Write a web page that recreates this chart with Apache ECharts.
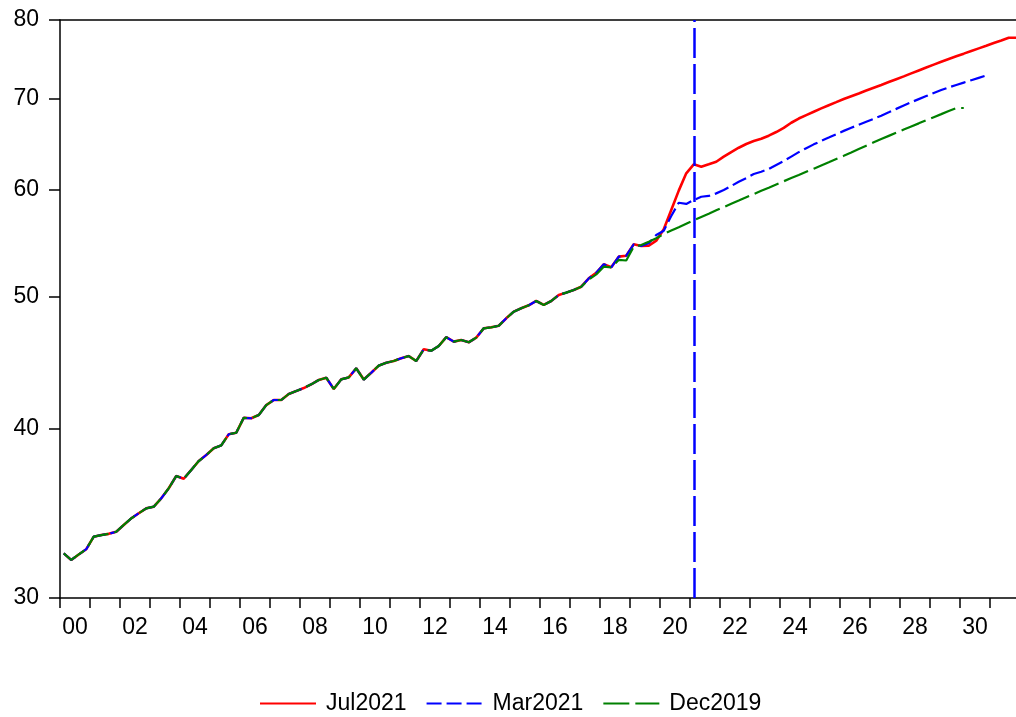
<!DOCTYPE html>
<html><head><meta charset="utf-8">
<script src="https://cdn.jsdelivr.net/npm/echarts@6/dist/echarts.min.js"></script>
<style>html,body{margin:0;padding:0;background:#fff}#c{width:1016px;height:717px}</style>
</head><body><div id="c"></div>
<script>
// Quarterly data, first observation = 2000Q1
const startYear = 2000;
const seriesNames = ['Jul2021', 'Mar2021', 'Dec2019'];
// Common history 2000Q1..2017Q2 (quarter index 0..69)
const sharedHistory = [
  32.36, 32.00, 32.30, 32.59, 33.29, 33.38, 33.45, 33.57, 33.96, 34.34,
  34.64, 34.93, 35.03, 35.53, 36.14, 36.90, 36.73, 37.28, 37.85, 38.24,
  38.68, 38.87, 39.61, 39.71, 40.73, 40.70, 40.92, 41.62, 41.98, 41.98,
  42.41, 42.62, 42.84, 43.11, 43.43, 43.60, 42.77, 43.48, 43.62, 44.30,
  43.46, 43.97, 44.50, 44.72, 44.85, 45.06, 45.23, 44.85, 45.75, 45.64,
  46.01, 46.70, 46.35, 46.48, 46.30, 46.67, 47.41, 47.49, 47.62, 48.22,
  48.77, 49.05, 49.30, 49.66, 49.33, 49.66, 50.17, 50.37, 50.60, 50.88
];
// Vintage-specific values from 2017Q3 (index 70)
const jul2021Tail = [
  51.60, 52.09, 52.85, 52.58, 53.54, 53.63, 54.68, 54.52, 54.54, 55.01,
  56.09, 57.95, 59.89, 61.67, 62.62, 62.37, 62.63, 62.90, 63.44, 63.94,
  64.41, 64.82, 65.15, 65.40, 65.74, 66.15, 66.62, 67.20, 67.68, 68.08,
  68.47, 68.86, 69.23, 69.59, 69.96, 70.30, 70.63, 70.97, 71.31, 71.65,
  72.00, 72.35, 72.70, 73.07, 73.44, 73.81, 74.17, 74.53, 74.88, 75.23,
  75.56, 75.90, 76.24, 76.58, 76.93, 77.27, 77.62, 77.62
];
const mar2021Tail = [
  51.60, 52.09, 52.85, 52.58, 53.54, 53.63, 54.68, 54.52, 54.77, 55.55,
  55.95, 57.36, 58.67, 58.55, 58.94, 59.27, 59.35, 59.61, 59.95, 60.36,
  60.80, 61.18, 61.60, 61.84, 62.12, 62.55, 62.97, 63.45, 63.93, 64.36,
  64.78, 65.16, 65.53, 65.91, 66.28, 66.63, 66.97, 67.31, 67.65, 68.01,
  68.40, 68.80, 69.19, 69.58, 69.95, 70.31, 70.67, 71.03, 71.36, 71.65,
  71.94, 72.23, 72.52, 72.81
];
const dec2019Tail = [
  51.50, 51.95, 52.64, 52.58, 53.24, 53.19, 54.45, 54.61, 54.92, 55.24,
  55.64, 55.97, 56.29, 56.62, 56.94, 57.27, 57.59, 57.92, 58.24, 58.57,
  58.89, 59.22, 59.54, 59.87, 60.19, 60.52, 60.85, 61.18, 61.50, 61.83,
  62.16, 62.50, 62.84, 63.19, 63.53, 63.89, 64.26, 64.63, 65.00, 65.37,
  65.72, 66.07, 66.43, 66.78, 67.13, 67.49, 67.84, 68.19, 68.55, 68.90,
  68.90
];
const yTickValues = [30, 40, 50, 60, 70, 80];
const xLabelYears = [2000, 2002, 2004, 2006, 2008, 2010, 2012, 2014, 2016, 2018, 2020, 2022, 2024, 2026, 2028, 2030];
const xTickYears = [];
for (let y = 2000; y <= 2031; y++) xTickYears.push(y);
const markerQuarterIndex = 84; // 2021Q1

const quarterX = i => startYear + (i + 0.5) / 4;
function build(tail) {
  const all = sharedHistory.concat(tail);
  return all.map((v, i) => [quarterX(i), Math.log(v)]);
}

const xMin = 2000, xMax = 2032 - 4 / 30; // plot frame runs just past the picture's right edge
const font = "'Liberation Sans', Arial, sans-serif";
const chart = echarts.init(document.getElementById('c'), null, {renderer: 'canvas'});
chart.setOption({
  animation: false,
  backgroundColor: '#fff',
  grid: {left: 60, top: 20, right: 0, bottom: 119},
  legend: {
    data: seriesNames,
    top: 687, left: 254,
    itemWidth: 56, itemHeight: 14, itemGap: 19,
    itemStyle: {opacity: 0},
    textStyle: {fontFamily: font, fontSize: 23, color: '#000', padding: [0, 0, 0, 5]}
  },
  xAxis: [{
    type: 'value', min: xMin, max: xMax,
    splitLine: {show: false},
    axisLine: {show: true, lineStyle: {color: '#000', width: 1.5}},
    axisTick: {show: true, length: 10, lineStyle: {color: '#000', width: 1.5}, customValues: xTickYears},
    axisLabel: {
      customValues: xLabelYears.map(y => y + 0.5),
      formatter: v => String(Math.floor(v) % 100).padStart(2, '0'),
      fontFamily: font, fontSize: 23, color: '#000', margin: 18
    }
  }, {
    type: 'value', position: 'top', min: xMin, max: xMax,
    splitLine: {show: false},
    axisLine: {show: true, onZero: false, lineStyle: {color: '#000', width: 1.5}},
    axisTick: {show: false}, axisLabel: {show: false}
  }],
  yAxis: {
    type: 'value', min: Math.log(30) - 1e-9, max: Math.log(80) + 1e-9,
    splitLine: {show: false},
    axisLine: {show: true, lineStyle: {color: '#000', width: 1.5}},
    axisTick: {show: true, length: 11, lineStyle: {color: '#000', width: 1.5}, customValues: yTickValues.map(v => Math.log(v))},
    axisLabel: {
      customValues: yTickValues.map(v => Math.log(v)),
      formatter: v => String(Math.round(Math.exp(v))),
      fontFamily: font, fontSize: 23, color: '#000', margin: 21
    }
  },
  series: [
    {
      name: seriesNames[0], type: 'line', data: build(jul2021Tail),
      symbol: 'none', showSymbol: false,
      lineStyle: {color: '#ff0000', width: 2.6}, itemStyle: {color: '#ff0000'},
      markLine: {
        silent: true, symbol: ['none', 'none'], label: {show: false},
        lineStyle: {color: '#0000ff', width: 2.5, type: [30, 6]},
        data: [{xAxis: quarterX(markerQuarterIndex)}]
      }
    },
    {
      name: seriesNames[1], type: 'line', data: build(mar2021Tail),
      symbol: 'none', showSymbol: false,
      lineStyle: {color: '#0000ff', width: 2.2, type: [15, 5]}, itemStyle: {color: '#0000ff'}
    },
    {
      name: seriesNames[2], type: 'line', data: build(dec2019Tail),
      symbol: 'none', showSymbol: false,
      lineStyle: {color: '#008000', width: 2.2, type: [26, 6]}, itemStyle: {color: '#008000'}
    }
  ]
});
</script></body></html>
